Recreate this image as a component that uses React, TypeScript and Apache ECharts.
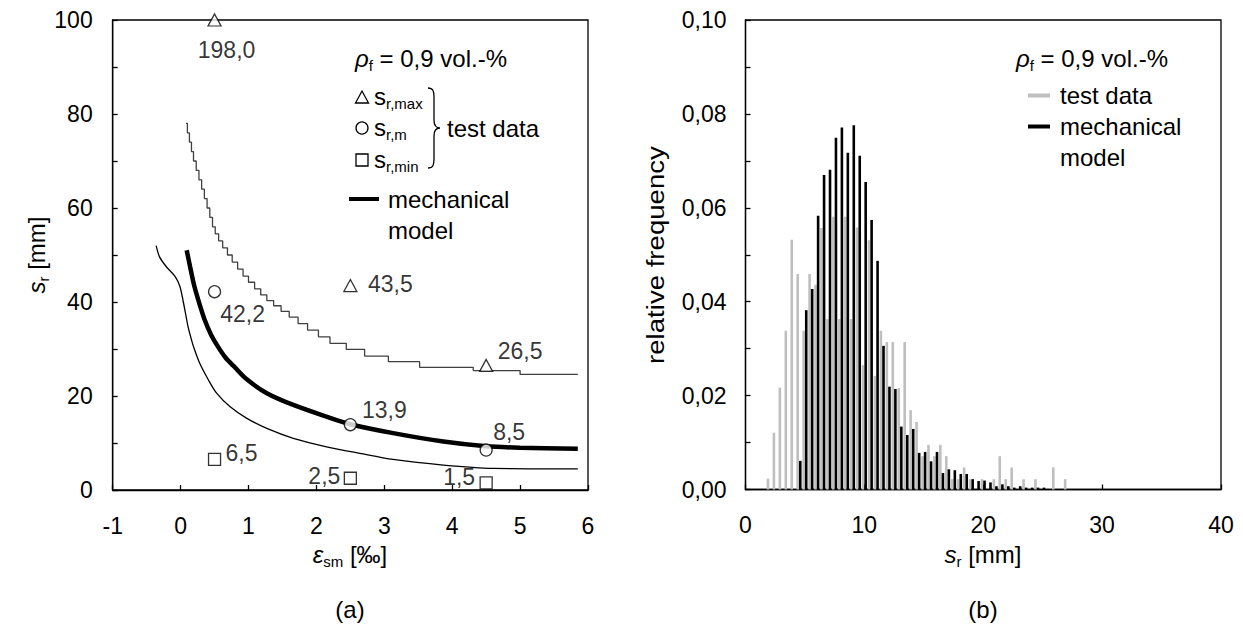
import React, { useEffect, useRef } from "react";
import * as echarts from "echarts";

const FONT = '"Liberation Sans", Arial, sans-serif';

// ---------------- Panel (a): crack spacing vs. mean steel strain ----------------
const testStrain = [0.5, 2.5, 4.5];
const testSrMax = [198.0, 43.5, 26.5];
const testSrMean = [42.2, 13.9, 8.5];
const testSrMin = [6.5, 2.5, 1.5];

// mechanical model, upper bound (stepped)
const modelSrMax: number[][] = [
  [0.08, 78.0], [0.1, 76.0], [0.13, 74.0], [0.16, 72.0], [0.19, 70.0], [0.23, 68.0],
  [0.27, 66.0], [0.31, 64.0], [0.35, 62.0], [0.39, 60.0], [0.43, 58.0], [0.47, 56.0],
  [0.51, 54.5], [0.56, 53.0], [0.62, 51.5], [0.69, 50.0], [0.76, 48.5], [0.84, 47.0],
  [0.92, 45.5], [1.0, 44.2], [1.09, 42.8], [1.18, 41.5], [1.27, 40.3], [1.37, 39.2],
  [1.48, 38.0], [1.6, 36.8], [1.73, 35.4], [1.87, 34.0], [2.03, 32.6], [2.2, 31.2],
  [2.44, 29.9], [2.71, 28.5], [3.06, 27.3], [3.52, 26.1], [4.31, 25.4], [5.0, 24.6],
  [5.85, 24.6],
];
// mechanical model, mean
const modelSrMean: number[][] = [
  [0.09, 51.0], [0.14, 47.5], [0.2, 43.5], [0.28, 39.5], [0.36, 36.0], [0.45, 33.0],
  [0.55, 30.5], [0.66, 28.2], [0.78, 26.4], [0.97, 23.6], [1.27, 20.6], [1.66, 18.1],
  [2.15, 15.6], [2.5, 14.0], [3.13, 12.1], [3.87, 10.3], [4.5, 9.3], [5.0, 9.0], [5.85, 8.8],
];
// mechanical model, lower bound
const modelSrMin: number[][] = [
  [-0.36, 52.0], [-0.31, 49.6], [-0.21, 47.5], [-0.08, 45.4], [-0.01, 43.3], [0.04, 40.0],
  [0.08, 37.0], [0.11, 34.7], [0.15, 32.5], [0.19, 30.5], [0.28, 27.0], [0.41, 23.4],
  [0.53, 20.6], [0.73, 17.7], [0.97, 15.3], [1.27, 13.1], [1.66, 11.0], [2.15, 9.2],
  [2.64, 7.8], [3.13, 6.5], [3.87, 5.3], [4.6, 4.6], [5.85, 4.5],
];

// ---------------- Panel (b): histogram of crack spacing ----------------
const binCentres = [
  2.0, 2.5, 3.0, 3.5, 4.0, 4.5, 5.0, 5.5, 6.0, 6.5, 7.0, 7.5, 8.0, 8.5, 9.0, 9.5, 10.0,
  10.5, 11.0, 11.5, 12.0, 12.5, 13.0, 13.5, 14.0, 14.5, 15.0, 15.5, 16.0, 16.5, 17.0,
  17.5, 18.0, 18.5, 19.0, 19.5, 20.0, 20.5, 21.0, 21.5, 22.0, 22.5, 23.0, 23.5, 24.0,
  24.5, 25.0, 25.5, 26.0, 26.5, 27.0,
];
const freqTest = [
  0.0023, 0.0121, 0.0217, 0.0338, 0.0532, 0.0459, 0.0338, 0.0459, 0.0436, 0.0557,
  0.0363, 0.0581, 0.0363, 0.0581, 0.0363, 0.0558, 0.0265, 0.0531, 0.0242, 0.0338,
  0.0314, 0.0314, 0.0216, 0.0314, 0.0169, 0.0144, 0.0071, 0.0095, 0.0071, 0.0095,
  0.0071, 0.0022, 0.0022, 0.0047, 0.0022, 0.0, 0.0022, 0.0, 0.0022, 0.0071,
  0.0022, 0.0047, 0.0, 0.0022, 0.0, 0.0022, 0.0, 0.0, 0.0047, 0.0, 0.0022,
];
const freqModel = [
  0.0, 0.0, 0.0, 0.0, 0.0, 0.0061, 0.0382, 0.0427, 0.0583, 0.067, 0.0681, 0.0749,
  0.0771, 0.0717, 0.0776, 0.0711, 0.0655, 0.0574, 0.0487, 0.0306, 0.0219, 0.0214,
  0.0134, 0.0116, 0.0129, 0.0078, 0.008, 0.006, 0.008, 0.0035, 0.0043, 0.0041,
  0.0033, 0.0033, 0.0022, 0.0018, 0.0019, 0.0015, 0.0007, 0.0011, 0.0007, 0.0004,
  0.0007, 0.0004, 0.0004, 0.0004, 0.0004,
];

// ---------------- helpers ----------------
const BRACE_D =
  "M0 0 C5 0 6 3 6 9 L6 32 C6 37 8 40 12 40 C8 40 6 43 6 48 L6 71 C6 77 5 80 0 80";
echarts.graphic.registerShape("brace", echarts.graphic.extendPath(BRACE_D, {}));

const comma = (v: number, d = 1) => v.toFixed(d).replace(".", ",");

let measureCtx: CanvasRenderingContext2D | null = null;
function fontOf(size: number, italic?: boolean) {
  return `${italic ? "italic " : ""}${size}px ${FONT}`;
}
function measure(text: string, size: number, italic?: boolean) {
  if (!measureCtx) measureCtx = document.createElement("canvas").getContext("2d");
  if (!measureCtx) return text.length * size * 0.55;
  measureCtx.font = fontOf(size, italic);
  return measureCtx.measureText(text).width;
}
type Part = { t: string; size?: number; italic?: boolean; dy?: number };
function textRow(parts: Part[], x: number, y: number, align: "left" | "center" = "left") {
  const widths = parts.map((p) => measure(p.t, p.size ?? 24, p.italic));
  const total = widths.reduce((a, b) => a + b, 0);
  let cx = align === "center" ? x - total / 2 : x;
  return parts.map((p, i) => {
    const el = {
      type: "text",
      x: cx,
      y: y + (p.dy ?? 0),
      silent: true,
      style: {
        text: p.t,
        font: fontOf(p.size ?? 24, p.italic),
        fill: "#000",
        align: "left",
        verticalAlign: "middle",
      },
    };
    cx += widths[i];
    return el;
  });
}

const MARK = { fill: "#fff", stroke: "#000", lineWidth: 1.3 };

function buildOption() {
  const labelBase = {
    show: true,
    position: "inside",
    color: "#000",
    fontSize: 23,
    fontFamily: FONT,
  };
  const offMax = [[12, 30], [40, -2], [34, -14]];
  const offMean = [[28, 22], [34, -15], [23, -18]];
  const offMin = [[27, -6], [-26, -2], [-27, -6]];

  const axisCommon = {
    axisLine: { show: true, onZero: false, lineStyle: { color: "#000", width: 1.3 } },
    axisTick: { show: true, inside: true, length: 5, lineStyle: { color: "#000", width: 1.3 } },
    splitLine: { show: false },
  };

  const sub = 15;
  const dy = 7;
  const graphic: any[] = [
    // ---- legend (a)
    ...textRow([{ t: "ρ", italic: true }, { t: "f", size: sub, dy }, { t: " = 0,9 vol.-%" }], 355, 58),
    { type: "polygon", shape: { points: [[355.5, 103], [368.5, 103], [362, 91]] }, style: MARK },
    ...textRow([{ t: "s" }, { t: "r,max", size: sub, dy }], 374, 96),
    { type: "circle", shape: { cx: 362, cy: 128, r: 6 }, style: MARK },
    ...textRow([{ t: "s" }, { t: "r,m", size: sub, dy }], 374, 127),
    { type: "rect", shape: { x: 356, y: 154, width: 12, height: 12 }, style: MARK },
    ...textRow([{ t: "s" }, { t: "r,min", size: sub, dy }], 374, 159),
    { type: "brace", x: 428, y: 88, style: { fill: "none", stroke: "#000", lineWidth: 1.3 } },
    ...textRow([{ t: "test data" }], 447, 128),
    { type: "line", shape: { x1: 349, y1: 199, x2: 379, y2: 199 }, style: { stroke: "#000", lineWidth: 4 } },
    ...textRow([{ t: "mechanical" }], 388, 199),
    ...textRow([{ t: "model" }], 388, 230),
    // ---- legend (b)
    ...textRow([{ t: "ρ", italic: true }, { t: "f", size: sub, dy }, { t: " = 0,9 vol.-%" }], 1016, 58),
    { type: "line", shape: { x1: 1028, y1: 95.5, x2: 1050, y2: 95.5 }, style: { stroke: "#bfbfbf", lineWidth: 4 } },
    ...textRow([{ t: "test data" }], 1060, 95),
    { type: "line", shape: { x1: 1028, y1: 126.5, x2: 1050, y2: 126.5 }, style: { stroke: "#000", lineWidth: 4 } },
    ...textRow([{ t: "mechanical" }], 1060, 126),
    ...textRow([{ t: "model" }], 1060, 157),
    // ---- axis titles
    {
      type: "group",
      x: 36,
      y: 255,
      rotation: Math.PI / 2,
      children: textRow([{ t: "s", italic: true }, { t: "r", size: sub, dy }, { t: " [mm]" }], 0, 0, "center"),
    },
    {
      type: "group",
      x: 656,
      y: 255,
      rotation: Math.PI / 2,
      scaleX: 1.15,
      children: textRow([{ t: "relative frequency" }], 0, 0, "center"),
    },
    ...textRow([{ t: "ε", italic: true }, { t: "sm", size: sub, dy }, { t: " [‰]" }], 350, 554, "center"),
    ...textRow([{ t: "s", italic: true }, { t: "r", size: sub, dy }, { t: " [mm]" }], 983, 554, "center"),
    ...textRow([{ t: "(a)" }], 350, 609, "center"),
    ...textRow([{ t: "(b)" }], 983, 609, "center"),
  ];

  const tickFont = 23;

  return {
    animation: false,
    backgroundColor: "#fff",
    textStyle: { fontFamily: FONT },
    grid: [
      { left: 112.7, top: 20, width: 475.3, height: 470, show: true, borderColor: "#000", borderWidth: 1.3 },
      { left: 745.5, top: 20, width: 475.5, height: 469.5, show: true, borderColor: "#000", borderWidth: 1.3 },
    ],
    xAxis: [
      {
        type: "value",
        gridIndex: 0,
        min: -1,
        max: 6,
        interval: 1,
        ...axisCommon,
        axisLabel: { color: "#000", fontSize: tickFont, margin: 24, fontFamily: FONT },
      },
      {
        type: "value",
        gridIndex: 1,
        min: 0,
        max: 40,
        interval: 10,
        ...axisCommon,
        axisLabel: { color: "#000", fontSize: tickFont, margin: 24, fontFamily: FONT },
      },
    ],
    yAxis: [
      {
        type: "value",
        gridIndex: 0,
        min: 0,
        max: 100,
        interval: 10,
        ...axisCommon,
        axisLabel: {
          color: "#000",
          fontSize: tickFont,
          margin: 20,
          fontFamily: FONT,
          formatter: (v: number) => (Math.round(v) % 20 === 0 ? String(Math.round(v)) : ""),
        },
      },
      {
        type: "value",
        gridIndex: 1,
        min: 0,
        max: 0.1,
        interval: 0.01,
        ...axisCommon,
        axisLabel: {
          color: "#000",
          fontSize: tickFont,
          margin: 19,
          fontFamily: FONT,
          formatter: (v: number) => {
            const k = Math.round(v * 100);
            return k % 2 === 0 ? comma(k / 100, 2) : "";
          },
        },
      },
    ],
    series: [
      {
        type: "line",
        xAxisIndex: 0,
        yAxisIndex: 0,
        data: modelSrMax,
        step: "end",
        symbol: "none",
        lineStyle: { color: "#404040", width: 1.3 },
        z: 2,
      },
      {
        type: "line",
        xAxisIndex: 0,
        yAxisIndex: 0,
        data: modelSrMin,
        symbol: "none",
        smooth: 0.3,
        lineStyle: { color: "#000", width: 1.3 },
        z: 2,
      },
      {
        type: "line",
        xAxisIndex: 0,
        yAxisIndex: 0,
        data: modelSrMean,
        symbol: "none",
        smooth: 0.3,
        lineStyle: { color: "#000", width: 4.5 },
        z: 3,
      },
      {
        type: "scatter",
        xAxisIndex: 0,
        yAxisIndex: 0,
        symbol: "triangle",
        symbolSize: [13, 12],
        clip: false,
        z: 5,
        data: testStrain.map((x, i) => ({
          value: [x, Math.min(testSrMax[i], 100)],
          label: { offset: offMax[i] },
        })),
        itemStyle: { color: "#fff", borderColor: "#000", borderWidth: 1.3 },
        label: { ...labelBase, formatter: (p: any) => comma(testSrMax[p.dataIndex]) },
      },
      {
        type: "scatter",
        xAxisIndex: 0,
        yAxisIndex: 0,
        symbol: "circle",
        symbolSize: 12,
        clip: false,
        z: 5,
        data: testStrain.map((x, i) => ({ value: [x, testSrMean[i]], label: { offset: offMean[i] } })),
        itemStyle: { color: "#fff", borderColor: "#000", borderWidth: 1.3 },
        label: { ...labelBase, formatter: (p: any) => comma(testSrMean[p.dataIndex]) },
      },
      {
        type: "scatter",
        xAxisIndex: 0,
        yAxisIndex: 0,
        symbol: "rect",
        symbolSize: 12,
        clip: false,
        z: 5,
        data: testStrain.map((x, i) => ({ value: [x, testSrMin[i]], label: { offset: offMin[i] } })),
        itemStyle: { color: "#fff", borderColor: "#000", borderWidth: 1.3 },
        label: { ...labelBase, formatter: (p: any) => comma(testSrMin[p.dataIndex]) },
      },
      {
        type: "bar",
        xAxisIndex: 1,
        yAxisIndex: 1,
        data: freqTest.map((v, i) => [binCentres[i], v]),
        barWidth: 2.6,
        barGap: "0%",
        itemStyle: { color: "#bfbfbf" },
      },
      {
        type: "bar",
        xAxisIndex: 1,
        yAxisIndex: 1,
        data: freqModel.map((v, i) => [binCentres[i], v]),
        barWidth: 2.6,
        barGap: "0%",
        itemStyle: { color: "#000" },
      },
    ],
    graphic,
  };
}

export default function App() {
  const ref = useRef<HTMLDivElement>(null);
  useEffect(() => {
    if (!ref.current) return;
    const chart = echarts.init(ref.current, undefined, { renderer: "svg" });
    chart.setOption(buildOption() as any);
    return () => chart.dispose();
  }, []);
  return (
    <div
      ref={ref}
      style={{ position: "fixed", left: 0, top: 0, width: 1243, height: 642, background: "#fff" }}
    />
  );
}
